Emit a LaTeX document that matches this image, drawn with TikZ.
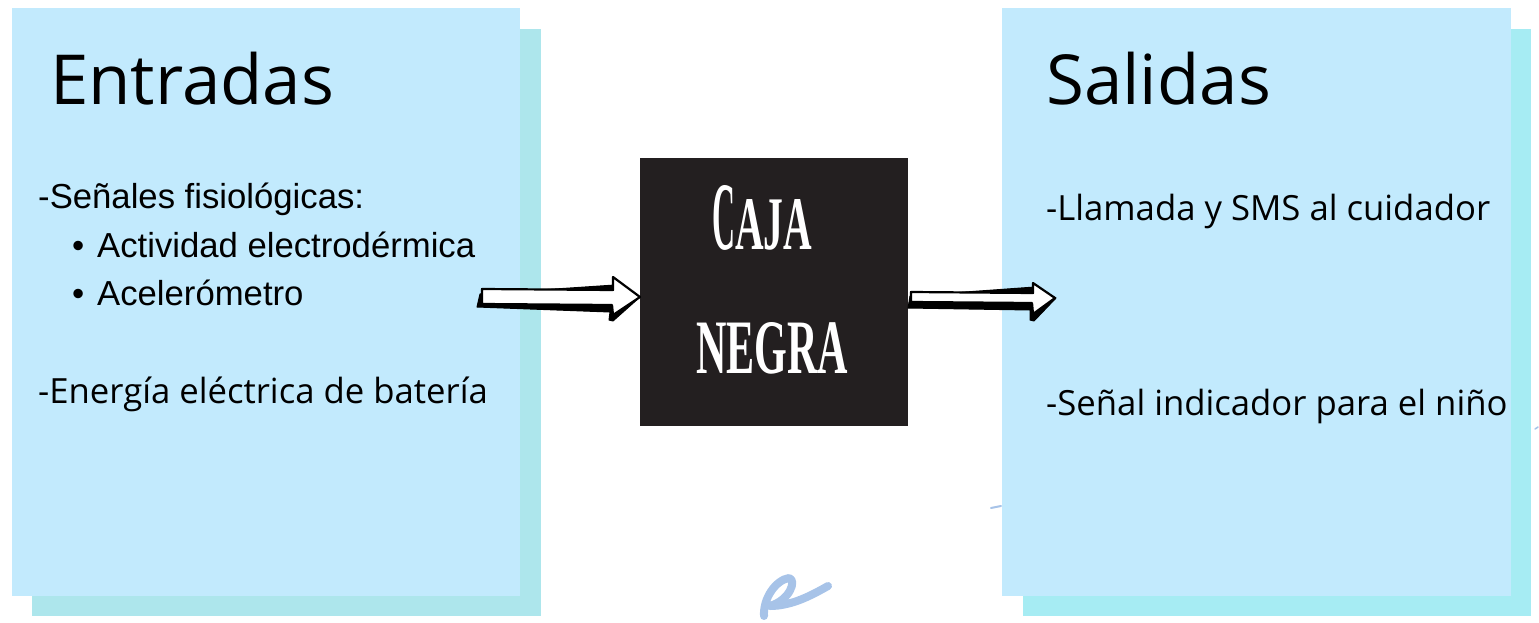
\documentclass[tikz,border=0pt]{standalone}
\usepackage{fontspec}
\newfontfamily\opensans{Open Sans}
\newfontfamily\libsans{Liberation Sans}
\newfontfamily\capsfont{Liberation Serif}
\definecolor{panel}{HTML}{C2EAFD}
\definecolor{shadowL}{HTML}{ADE6EC}
\definecolor{shadowR}{HTML}{A6ECF3}
\definecolor{boxblack}{HTML}{231F20}
\definecolor{scrib}{HTML}{A7C3E8}
\tikzset{
  panelbox/.style={fill=panel, draw=none, inner sep=0pt, anchor=north west},
  shadowbox/.style={draw=none, inner sep=0pt, anchor=north west},
  title/.style={font=\opensans\fontsize{69}{69}\selectfont, anchor=base west, inner sep=0pt},
  ostext/.style={font=\opensans\fontsize{34.7}{34.7}\selectfont, anchor=base west, inner sep=0pt},
  lstext/.style={font=\libsans\fontsize{34.7}{34.7}\selectfont, anchor=base west, inner sep=0pt},
  arrowbody/.style={fill=white, draw=black, line width=2.2pt, line join=round},
  arrowshade/.style={fill=black, draw=black, line width=1pt, line join=round},
}
\begin{document}
\begin{tikzpicture}[x=1pt,y=-1pt]
\useasboundingbox (0,0) rectangle (1539,623);
% shadows
\node[shadowbox, fill=shadowL, minimum width=509pt, minimum height=587pt] (shL) at (32,29) {};
\node[shadowbox, fill=shadowR, minimum width=508pt, minimum height=587pt] (shR) at (1023,29) {};
% panels
\node[panelbox, minimum width=508pt, minimum height=588pt] (inL) at (12,8) {};
\node[panelbox, minimum width=509pt, minimum height=588pt] (outR) at (1002,8) {};
% black box
\node[fill=boxblack, draw=none, inner sep=0pt, minimum width=268pt, minimum height=268pt, anchor=north west] (bb) at (640,158) {};
% titles
\node[title] (tin) at (50,105) {Entradas};
\node[title] (tout) at (1046,105) {Salidas};
% input texts
\node[lstext] (s1) at (38,208) {-Señales fisiológicas:};
\node[lstext] (b1) at (72,257) {•};
\node[lstext] (i1) at (97,257) {Actividad electrodérmica};
\node[lstext] (b2) at (72,305) {•};
\node[lstext] (i2) at (97,305) {Acelerómetro};
\node[ostext] (s2) at (38,403) {-Energía eléctrica de batería};
% output texts
\node[ostext] (o1) at (1046,220) {-Llamada y SMS al cuidador};
\node[ostext] (o2) at (1046,415) {-Señal indicador para el niño};
% black box text
\node[anchor=base west, inner sep=0pt, text=white] (caja) at (712,249)
  {\resizebox{23pt}{64pt}{\capsfont\bfseries C}\resizebox{77pt}{50pt}{\capsfont\bfseries AJA}};
\node[anchor=base west, inner sep=0pt, text=white] (negra) at (696,373)
  {\resizebox{152pt}{51pt}{\capsfont\bfseries NEGRA}};
% left arrow
\fill[arrowshade] (480,294) -- (477,307) -- (610,312) -- (609,320) -- (613,321) -- (640,297) -- (615,285) -- cycle;
\draw[arrowbody] (482,289) -- (613,290) -- (613,277) -- (640,297) -- (613,315) -- (612,305) -- (482,304) -- cycle;
% right arrow
\fill[arrowshade] (910,296) -- (908,308) -- (1030,310) -- (1030,320) -- (1034,321) -- (1056,298) -- (1035,287) -- cycle;
\draw[arrowbody] (911,292) -- (1033,293) -- (1033,283) -- (1055,298) -- (1033,314) -- (1032,303) -- (911,302) -- cycle;
% scribbles
\draw[scrib, line width=8pt, line cap=round, line join=round]
  (764,616) .. controls (763,598) and (776,580) .. (789,578)
  .. controls (797,580) and (790,600) .. (770,606)
  .. controls (792,606) and (812,595) .. (828,586);
\draw[scrib, line width=2pt, line cap=round] (991,508) -- (1001,506);
\draw[scrib, line width=1.5pt, line cap=round] (1535,429) -- (1538,427);
\end{tikzpicture}
\end{document}
